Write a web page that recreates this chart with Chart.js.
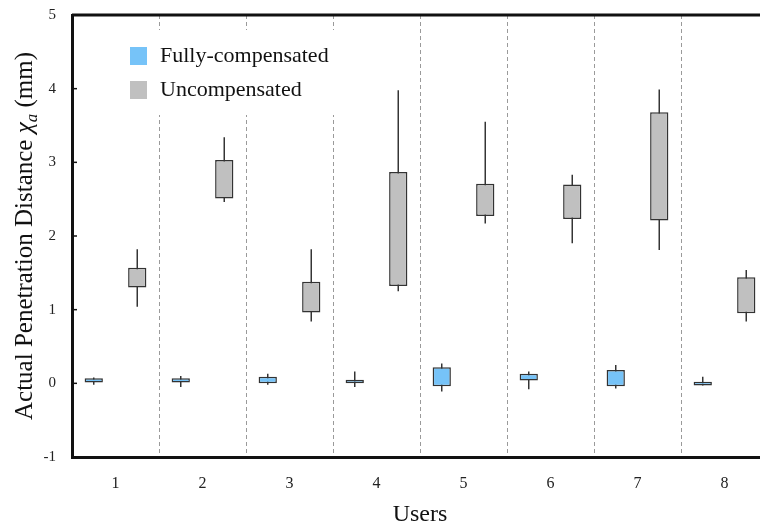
<!DOCTYPE html>
<html>
<head>
<meta charset="utf-8">
<script src="https://cdn.jsdelivr.net/npm/chart.js@4.4.1/dist/chart.umd.min.js"></script>
<style>
  html, body { margin: 0; padding: 0; background: #fff; overflow: hidden; }
  #wrap { width: 770px; height: 531px; }
</style>
</head>
<body>
<div id="wrap"><canvas id="chart"></canvas></div>
<script>
const users = ['1', '2', '3', '4', '5', '6', '7', '8'];
const yTicks = [-1, 0, 1, 2, 3, 4, 5];

// Fully-compensated (blue)
const fullWhiskLow = [-0.02, -0.05, -0.02, -0.05, -0.11, -0.08, -0.07, -0.03];
const fullBoxLow   = [0.01, 0.01, 0.00, 0.00, -0.04, 0.04, -0.04, -0.03];
const fullBoxHigh  = [0.07, 0.07, 0.09, 0.05, 0.22, 0.13, 0.18, 0.02];
const fullWhiskHigh = [0.08, 0.10, 0.13, 0.16, 0.27, 0.16, 0.25, 0.09];

// Uncompensated (gray)
const uncWhiskLow = [1.04, 2.46, 0.84, 1.25, 2.17, 1.90, 1.81, 0.84];
const uncBoxLow   = [1.30, 2.51, 0.96, 1.32, 2.27, 2.23, 2.21, 0.95];
const uncBoxHigh  = [1.57, 3.03, 1.38, 2.87, 2.71, 2.70, 3.68, 1.44];
const uncWhiskHigh = [1.82, 3.34, 1.82, 3.98, 3.55, 2.83, 3.99, 1.54];

const pair = (lo, hi) => lo.map((v, i) => [v, hi[i]]);

const blue = '#76c3f8';
const gray = '#c0c0c0';
const edge = '#333333';
const serif = "'Liberation Serif', 'Times New Roman', serif";

// white legend panel, inward y ticks, top/right frame, y title with subscript
const decor = {
  id: 'decor',
  afterDatasetsDraw(chart) {
    const ctx = chart.ctx;
    const a = chart.chartArea;
    const y = chart.scales.y;

    ctx.save();
    // inward tick marks on the y axis
    ctx.strokeStyle = '#111';
    ctx.lineWidth = 1.5;
    yTicks.forEach(t => {
      const py = y.getPixelForValue(t);
      ctx.beginPath();
      ctx.moveTo(a.left, py);
      ctx.lineTo(a.left + 5, py);
      ctx.stroke();
    });

    // top and right frame
    ctx.strokeStyle = '#111';
    ctx.lineWidth = 3;
    ctx.beginPath();
    ctx.moveTo(a.left, a.top);
    ctx.lineTo(a.right, a.top);
    ctx.lineTo(a.right, a.bottom);
    ctx.stroke();

    // legend
    ctx.fillStyle = '#fff';
    ctx.fillRect(a.left + 40, a.top + 15, 228, 85);
    const items = [chart.data.datasets[0], chart.data.datasets[1]];
    ctx.font = '22px ' + serif;
    ctx.textBaseline = 'middle';
    items.forEach((ds, i) => {
      const cy = a.top + 41 + i * 34;
      ctx.fillStyle = ds.backgroundColor;
      ctx.fillRect(a.left + 58, cy - 9, 17, 18);
      ctx.fillStyle = '#111';
      ctx.fillText(ds.label, a.left + 88, cy);
    });

    // y axis title
    ctx.translate(32, (a.top + a.bottom) / 2);
    ctx.rotate(-Math.PI / 2);
    const parts = [
      { t: 'Actual Penetration Distance ', f: '25px ' + serif, dy: 0 },
      { t: 'χ', f: 'italic 25px ' + serif, dy: 0 },
      { t: 'a', f: 'italic 17px ' + serif, dy: 5 },
      { t: ' (mm)', f: '25px ' + serif, dy: 0 }
    ];
    let total = 0;
    parts.forEach(p => { ctx.font = p.f; p.w = ctx.measureText(p.t).width; total += p.w; });
    let x = -total / 2;
    ctx.fillStyle = '#111';
    ctx.textBaseline = 'alphabetic';
    ctx.textAlign = 'left';
    parts.forEach(p => {
      ctx.font = p.f;
      ctx.fillText(p.t, x, p.dy);
      x += p.w;
    });
    ctx.restore();
  }
};

new Chart(document.getElementById('chart'), {
  type: 'bar',
  data: {
    labels: users,
    datasets: [
      {
        label: 'Fully-compensated',
        data: pair(fullBoxLow, fullBoxHigh),
        stack: 'full',
        order: 0,
        backgroundColor: blue,
        borderColor: edge,
        borderWidth: 1.5,
        borderSkipped: false,
        barPercentage: 0.42,
        categoryPercentage: 1.0
      },
      {
        label: 'Uncompensated',
        data: pair(uncBoxLow, uncBoxHigh),
        stack: 'unc',
        order: 0,
        backgroundColor: gray,
        borderColor: edge,
        borderWidth: 1.5,
        borderSkipped: false,
        barPercentage: 0.42,
        categoryPercentage: 1.0
      },
      {
        label: 'Fully-compensated range',
        data: pair(fullWhiskLow, fullWhiskHigh),
        stack: 'full',
        order: 1,
        backgroundColor: edge,
        borderWidth: 0,
        barPercentage: 0.034,
        categoryPercentage: 1.0
      },
      {
        label: 'Uncompensated range',
        data: pair(uncWhiskLow, uncWhiskHigh),
        stack: 'unc',
        order: 1,
        backgroundColor: edge,
        borderWidth: 0,
        barPercentage: 0.034,
        categoryPercentage: 1.0
      }
    ]
  },
  options: {
    responsive: true,
    maintainAspectRatio: false,
    animation: false,
    layout: { padding: { top: 15, right: 2, left: 0, bottom: 0 } },
    plugins: {
      legend: { display: false },
      tooltip: { enabled: false }
    },
    scales: {
      x: {
        offset: true,
        grid: { color: '#9a9a9a', lineWidth: 1, drawTicks: false, offset: true },
        border: { display: true, width: 3, color: '#111', dash: [4, 3] },
        ticks: { color: '#222', font: { family: serif, size: 16 }, padding: 17 },
        title: {
          display: true,
          text: 'Users',
          color: '#111',
          font: { family: serif, size: 24, lineHeight: 1 },
          padding: { top: 0, bottom: 4 }
        },
        afterFit(scale) { scale.height = 74; }
      },
      y: {
        stacked: false,
        min: -1,
        max: 5,
        grid: { display: false },
        border: { display: true, width: 3, color: '#111' },
        ticks: {
          stepSize: 1,
          color: '#222',
          padding: 8,
          font: { family: serif, size: 15 }
        },
        afterFit(scale) {
          scale.width = 72;
          scale.paddingTop = 0;
          scale.paddingBottom = 0;
        }
      }
    }
  },
  plugins: [decor]
});
</script>
</body>
</html>
